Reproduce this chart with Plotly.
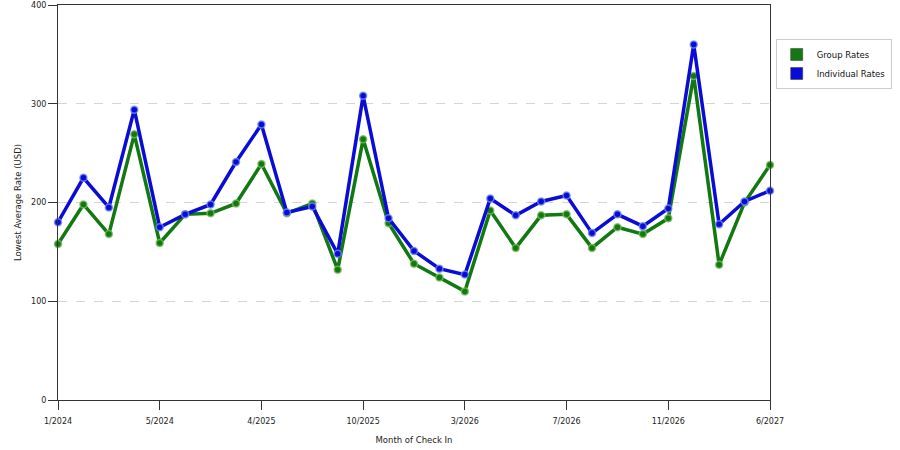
import plotly.graph_objects as go

# Month of check in (only every 4th label is shown on the axis)
months = [
    "1/2024", "2/2024", "3/2024", "4/2024", "5/2024", "7/2024", "10/2024", "1/2025",
    "4/2025", "5/2025", "7/2025", "9/2025", "10/2025", "11/2025", "12/2025", "1/2026",
    "3/2026", "4/2026", "5/2026", "6/2026", "7/2026", "8/2026", "9/2026", "10/2026",
    "11/2026", "12/2026", "2/2027", "4/2027", "6/2027",
]
group_rates = [
    158, 198, 168, 269, 159, 188, 189, 199, 239, 189, 199, 132, 264, 179, 138, 124,
    110, 192, 154, 187, 188, 154, 175, 168, 184, 328, 137, 200, 238,
]
individual_rates = [
    180, 225, 195, 294, 175, 188, 198, 241, 279, 190, 196, 148, 308, 184, 151, 133,
    127, 204, 187, 201, 207, 169, 188, 176, 194, 360, 178, 201, 212,
]
tick_labels = months[::4]

green = "#127812"
blue = "#0b0bd6"
font = "DejaVu Sans"

fig = go.Figure()

# data lines
for name, vals, col, halo in [
    ("Group Rates", group_rates, green, "rgba(120,190,90,0.8)"),
    ("Individual Rates", individual_rates, blue, "rgba(110,140,240,0.8)"),
]:
    fig.add_trace(go.Scatter(
        x=months, y=vals, mode="lines+markers", name=name,
        line=dict(color=col, width=3.5),
        marker=dict(color=col, size=7, line=dict(color=halo, width=1.5)),
        cliponaxis=False, showlegend=False,
    ))

# legend entries with square swatches
for name, col in [("Group Rates", green), ("Individual Rates", blue)]:
    fig.add_trace(go.Scatter(
        x=[None], y=[None], mode="markers", name=name,
        marker=dict(color=col, symbol="square", size=12, line=dict(color="#333", width=0.5)),
    ))

fig.update_layout(
    width=900, height=450,
    margin=dict(l=58, r=130, t=5, b=50, autoexpand=False),
    paper_bgcolor="white", plot_bgcolor="white",
    font=dict(family=font, size=8, color="#222"),
    legend=dict(
        x=1.008, y=0.914, xanchor="left", yanchor="top",
        bordercolor="#cccccc", borderwidth=1,
        font=dict(size=8.5, color="#111"),
        tracegroupgap=0, itemwidth=30,
    ),
)
fig.update_xaxes(
    type="category", range=[0, len(months) - 1], automargin=False,
    tickmode="array", tickvals=tick_labels, ticktext=tick_labels,
    showgrid=False, zeroline=False,
    showline=True, linecolor="#333", linewidth=1, mirror=True,
    ticks="outside", ticklen=9, tickcolor="#333", ticklabelstandoff=4,
    title=dict(text="Month of Check In", standoff=12, font=dict(size=8.5)),
)
fig.update_yaxes(
    range=[0, 400], tickvals=[0, 100, 200, 300, 400], automargin=False,
    showgrid=True, gridcolor="#d4d4d4", griddash="dash", gridwidth=1,
    zeroline=False,
    showline=True, linecolor="#333", linewidth=1, mirror=True,
    ticks="outside", ticklen=9, tickcolor="#333",
    title=dict(text="Lowest Average Rate (USD)", standoff=8, font=dict(size=8.5)),
)

# drop the page's default body margin so the figure sits at the window's corner
fig.write_html(
    "out.html",
    config={"displayModeBar": False},
    post_script="document.body.style.margin='0';",
)
